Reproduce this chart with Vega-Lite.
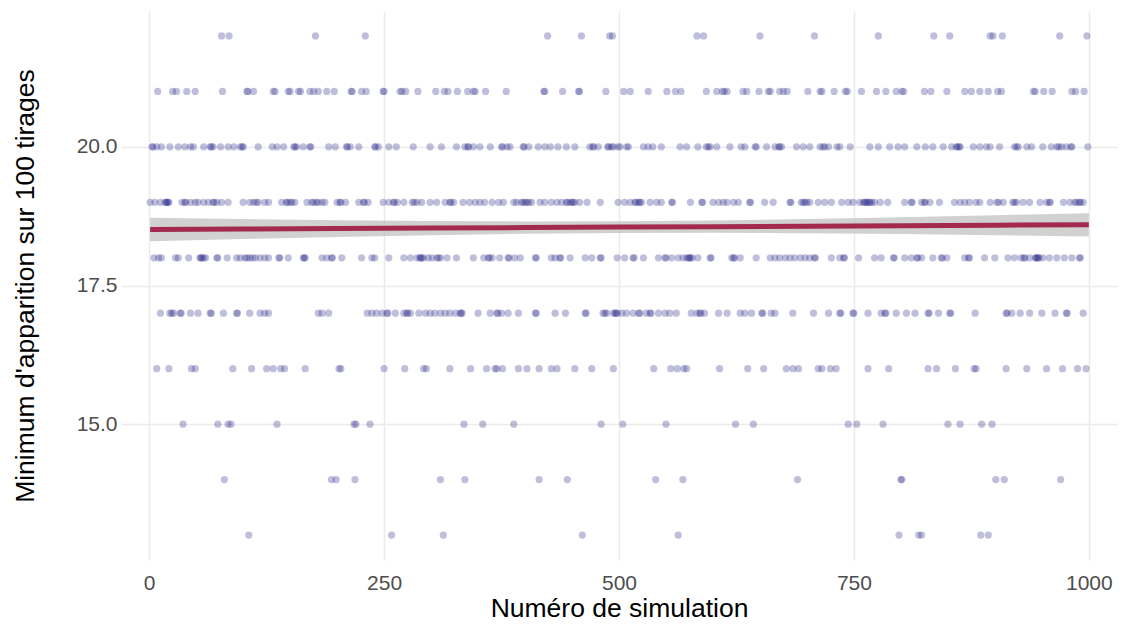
{
"$schema":"https://vega.github.io/schema/vega-lite/v6.json",
"width":996,"height":549,
"autosize":{"type":"none"},
"padding":{"left":121,"top":11,"right":11,"bottom":64},
"background":"white",
"config":{"view":{"stroke":null},"font":"Liberation Sans",
"axis":{"domain":false,"ticks":false,"grid":true,"gridColor":"#EBEBEB","gridWidth":1.5,"labelFont":"Liberation Sans","labelFontSize":21,"labelColor":"#4D4D4D","labelFlush":false,"titleFont":"Liberation Sans","titleFontSize":26.5,"titleFontWeight":"normal","titleColor":"#000000"},
"axisX":{"labelPadding":12,"titlePadding":2},
"axisY":{"labelPadding":4,"titlePadding":37}},
"datasets":{
"fit":[
{"x":1,"fit":18.51,"lo":18.30,"hi":18.72},
{"x":100,"fit":18.519,"lo":18.34,"hi":18.698},
{"x":200,"fit":18.527,"lo":18.376,"hi":18.678},
{"x":300,"fit":18.536,"lo":18.408,"hi":18.664},
{"x":400,"fit":18.544,"lo":18.433,"hi":18.655},
{"x":500,"fit":18.553,"lo":18.448,"hi":18.658},
{"x":600,"fit":18.561,"lo":18.45,"hi":18.672},
{"x":700,"fit":18.57,"lo":18.442,"hi":18.698},
{"x":800,"fit":18.578,"lo":18.427,"hi":18.729},
{"x":900,"fit":18.587,"lo":18.408,"hi":18.766},
{"x":1000,"fit":18.595,"lo":18.385,"hi":18.805}
],
"pts":[
{"x":77,"y":22},{"x":85,"y":22},{"x":177,"y":22},{"x":230,"y":22},{"x":424,"y":22},{"x":460,"y":22},{"x":490,"y":22},{"x":493,"y":22},{"x":583,"y":22},{"x":590,"y":22},{"x":650,"y":22},{"x":708,"y":22},{"x":776,"y":22},{"x":835,"y":22},{"x":852,"y":22},{"x":895,"y":22},{"x":898,"y":22},{"x":908,"y":22},{"x":969,"y":22},{"x":998,"y":22},
{"x":9,"y":21},{"x":25,"y":21},{"x":29,"y":21},{"x":40,"y":21},{"x":49,"y":21},{"x":78,"y":21},{"x":104,"y":21},{"x":105,"y":21},{"x":111,"y":21},{"x":132,"y":21},{"x":134,"y":21},{"x":148,"y":21},{"x":150,"y":21},{"x":159,"y":21},{"x":161,"y":21},{"x":171,"y":21},{"x":175,"y":21},{"x":180,"y":21},{"x":189,"y":21},{"x":197,"y":21},{"x":215,"y":21},{"x":216,"y":21},{"x":226,"y":21},{"x":231,"y":21},{"x":249,"y":21},{"x":250,"y":21},{"x":267,"y":21},{"x":269,"y":21},{"x":273,"y":21},{"x":286,"y":21},{"x":305,"y":21},{"x":314,"y":21},{"x":318,"y":21},{"x":328,"y":21},{"x":339,"y":21},{"x":345,"y":21},{"x":347,"y":21},{"x":358,"y":21},{"x":380,"y":21},{"x":420,"y":21},{"x":421,"y":21},{"x":440,"y":21},{"x":457,"y":21},{"x":458,"y":21},{"x":486,"y":21},
{"x":505,"y":21},{"x":512,"y":21},{"x":531,"y":21},{"x":551,"y":21},{"x":560,"y":21},{"x":566,"y":21},{"x":593,"y":21},{"x":604,"y":21},{"x":610,"y":21},{"x":612,"y":21},{"x":615,"y":21},{"x":632,"y":21},{"x":636,"y":21},{"x":649,"y":21},{"x":659,"y":21},{"x":661,"y":21},{"x":671,"y":21},{"x":675,"y":21},{"x":679,"y":21},{"x":701,"y":21},{"x":714,"y":21},{"x":716,"y":21},{"x":729,"y":21},{"x":741,"y":21},{"x":743,"y":21},{"x":758,"y":21},{"x":774,"y":21},{"x":784,"y":21},{"x":795,"y":21},{"x":801,"y":21},{"x":803,"y":21},{"x":825,"y":21},{"x":832,"y":21},{"x":849,"y":21},{"x":868,"y":21},{"x":875,"y":21},{"x":884,"y":21},{"x":893,"y":21},{"x":903,"y":21},{"x":907,"y":21},{"x":941,"y":21},{"x":943,"y":21},{"x":952,"y":21},{"x":961,"y":21},{"x":982,"y":21},{"x":986,"y":21},{"x":995,"y":21},
{"x":3,"y":20},{"x":8,"y":20},{"x":13,"y":20},{"x":22,"y":20},{"x":31,"y":20},{"x":38,"y":20},{"x":44,"y":20},{"x":47,"y":20},{"x":58,"y":20},{"x":65,"y":20},{"x":68,"y":20},{"x":76,"y":20},{"x":84,"y":20},{"x":90,"y":20},{"x":97,"y":20},{"x":99,"y":20},{"x":116,"y":20},{"x":131,"y":20},{"x":136,"y":20},{"x":143,"y":20},{"x":154,"y":20},{"x":157,"y":20},{"x":164,"y":20},{"x":171,"y":20},{"x":191,"y":20},{"x":198,"y":20},{"x":210,"y":20},{"x":214,"y":20},{"x":223,"y":20},{"x":240,"y":20},{"x":244,"y":20},{"x":255,"y":20},{"x":263,"y":20},{"x":281,"y":20},{"x":299,"y":20},{"x":311,"y":20},{"x":327,"y":20},{"x":336,"y":20},{"x":340,"y":20},{"x":345,"y":20},{"x":352,"y":20},{"x":363,"y":20},{"x":375,"y":20},{"x":381,"y":20},{"x":384,"y":20},{"x":398,"y":20},{"x":404,"y":20},{"x":414,"y":20},{"x":421,"y":20},{"x":427,"y":20},{"x":435,"y":20},{"x":444,"y":20},{"x":453,"y":20},{"x":469,"y":20},{"x":473,"y":20},{"x":478,"y":20},{"x":489,"y":20},{"x":494,"y":20},{"x":499,"y":20},
{"x":4,"y":20},{"x":66,"y":20},{"x":100,"y":20},{"x":155,"y":20},{"x":172,"y":20},{"x":211,"y":20},{"x":241,"y":20},{"x":339,"y":20},{"x":376,"y":20},{"x":399,"y":20},{"x":472,"y":20},{"x":488,"y":20},
{"x":492,"y":20},{"x":501,"y":20},{"x":508,"y":20},{"x":526,"y":20},{"x":531,"y":20},{"x":536,"y":20},{"x":545,"y":20},{"x":565,"y":20},{"x":572,"y":20},{"x":584,"y":20},{"x":593,"y":20},{"x":597,"y":20},{"x":604,"y":20},{"x":618,"y":20},{"x":630,"y":20},{"x":634,"y":20},{"x":645,"y":20},{"x":657,"y":20},{"x":666,"y":20},{"x":670,"y":20},{"x":673,"y":20},{"x":689,"y":20},{"x":696,"y":20},{"x":703,"y":20},{"x":714,"y":20},{"x":719,"y":20},{"x":723,"y":20},{"x":732,"y":20},{"x":735,"y":20},{"x":746,"y":20},{"x":767,"y":20},{"x":776,"y":20},{"x":788,"y":20},{"x":797,"y":20},{"x":804,"y":20},{"x":817,"y":20},{"x":826,"y":20},{"x":834,"y":20},{"x":845,"y":20},{"x":854,"y":20},{"x":859,"y":20},{"x":863,"y":20},{"x":877,"y":20},{"x":884,"y":20},{"x":891,"y":20},{"x":895,"y":20},{"x":905,"y":20},{"x":921,"y":20},{"x":925,"y":20},{"x":934,"y":20},{"x":939,"y":20},{"x":951,"y":20},{"x":960,"y":20},{"x":966,"y":20},{"x":971,"y":20},{"x":976,"y":20},{"x":982,"y":20},{"x":999,"y":20},
{"x":595,"y":20},{"x":646,"y":20},{"x":671,"y":20},{"x":717,"y":20},{"x":860,"y":20},{"x":862,"y":20},{"x":923,"y":20},{"x":968,"y":20},{"x":981,"y":20},{"x":510,"y":20},
{"x":1,"y":19},{"x":6,"y":19},{"x":12,"y":19},{"x":17,"y":19},{"x":19,"y":19},{"x":21,"y":19},{"x":35,"y":19},{"x":38,"y":19},{"x":44,"y":19},{"x":49,"y":19},{"x":52,"y":19},{"x":58,"y":19},{"x":63,"y":19},{"x":68,"y":19},{"x":72,"y":19},{"x":77,"y":19},{"x":84,"y":19},{"x":100,"y":19},{"x":107,"y":19},{"x":111,"y":19},{"x":116,"y":19},{"x":123,"y":19},{"x":127,"y":19},{"x":141,"y":19},{"x":146,"y":19},{"x":152,"y":19},{"x":155,"y":19},{"x":168,"y":19},{"x":173,"y":19},{"x":178,"y":19},{"x":184,"y":19},{"x":187,"y":19},{"x":200,"y":19},{"x":203,"y":19},{"x":209,"y":19},{"x":223,"y":19},{"x":228,"y":19},{"x":233,"y":19},{"x":249,"y":19},{"x":255,"y":19},{"x":260,"y":19},{"x":264,"y":19},{"x":271,"y":19},{"x":280,"y":19},{"x":285,"y":19},{"x":290,"y":19},{"x":299,"y":19},{"x":306,"y":19},{"x":315,"y":19},{"x":320,"y":19},{"x":324,"y":19},{"x":334,"y":19},{"x":341,"y":19},{"x":347,"y":19},{"x":352,"y":19},{"x":357,"y":19},{"x":365,"y":19},{"x":372,"y":19},{"x":377,"y":19},{"x":388,"y":19},{"x":391,"y":19},{"x":396,"y":19},{"x":400,"y":19},{"x":404,"y":19},{"x":407,"y":19},{"x":416,"y":19},{"x":421,"y":19},{"x":428,"y":19},{"x":434,"y":19},{"x":439,"y":19},{"x":444,"y":19},{"x":450,"y":19},{"x":453,"y":19},{"x":458,"y":19},{"x":466,"y":19},{"x":480,"y":19},{"x":499,"y":19},
{"x":18,"y":19},{"x":20,"y":19},{"x":39,"y":19},{"x":69,"y":19},{"x":114,"y":19},{"x":147,"y":19},{"x":150,"y":19},{"x":175,"y":19},{"x":180,"y":19},{"x":204,"y":19},{"x":229,"y":19},{"x":261,"y":19},{"x":282,"y":19},{"x":321,"y":19},{"x":398,"y":19},{"x":402,"y":19},{"x":448,"y":19},{"x":451,"y":19},{"x":445,"y":19},
{"x":506,"y":19},{"x":512,"y":19},{"x":517,"y":19},{"x":521,"y":19},{"x":524,"y":19},{"x":533,"y":19},{"x":540,"y":19},{"x":545,"y":19},{"x":556,"y":19},{"x":576,"y":19},{"x":588,"y":19},{"x":600,"y":19},{"x":606,"y":19},{"x":611,"y":19},{"x":615,"y":19},{"x":622,"y":19},{"x":627,"y":19},{"x":639,"y":19},{"x":655,"y":19},{"x":664,"y":19},{"x":682,"y":19},{"x":694,"y":19},{"x":698,"y":19},{"x":703,"y":19},{"x":712,"y":19},{"x":719,"y":19},{"x":726,"y":19},{"x":737,"y":19},{"x":744,"y":19},{"x":749,"y":19},{"x":756,"y":19},{"x":760,"y":19},{"x":763,"y":19},{"x":767,"y":19},{"x":772,"y":19},{"x":778,"y":19},{"x":786,"y":19},{"x":804,"y":19},{"x":811,"y":19},{"x":822,"y":19},{"x":826,"y":19},{"x":831,"y":19},{"x":841,"y":19},{"x":857,"y":19},{"x":863,"y":19},{"x":868,"y":19},{"x":873,"y":19},{"x":880,"y":19},{"x":884,"y":19},{"x":895,"y":19},{"x":904,"y":19},{"x":909,"y":19},{"x":919,"y":19},{"x":923,"y":19},{"x":930,"y":19},{"x":937,"y":19},{"x":948,"y":19},{"x":955,"y":19},{"x":958,"y":19},{"x":973,"y":19},{"x":980,"y":19},{"x":985,"y":19},{"x":990,"y":19},{"x":994,"y":19},
{"x":518,"y":19},{"x":522,"y":19},{"x":557,"y":19},{"x":589,"y":19},{"x":640,"y":19},{"x":683,"y":19},{"x":696,"y":19},{"x":700,"y":19},{"x":761,"y":19},{"x":764,"y":19},{"x":766,"y":19},{"x":769,"y":19},{"x":812,"y":19},{"x":825,"y":19},{"x":902,"y":19},{"x":921,"y":19},{"x":959,"y":19},{"x":987,"y":19},{"x":991,"y":19},
{"x":5,"y":18},{"x":10,"y":18},{"x":13,"y":18},{"x":28,"y":18},{"x":31,"y":18},{"x":42,"y":18},{"x":54,"y":18},{"x":56,"y":18},{"x":60,"y":18},{"x":72,"y":18},{"x":83,"y":18},{"x":93,"y":18},{"x":97,"y":18},{"x":102,"y":18},{"x":107,"y":18},{"x":113,"y":18},{"x":118,"y":18},{"x":123,"y":18},{"x":127,"y":18},{"x":138,"y":18},{"x":148,"y":18},{"x":164,"y":18},{"x":166,"y":18},{"x":184,"y":18},{"x":189,"y":18},{"x":194,"y":18},{"x":205,"y":18},{"x":226,"y":18},{"x":237,"y":18},{"x":240,"y":18},{"x":255,"y":18},{"x":271,"y":18},{"x":278,"y":18},{"x":285,"y":18},{"x":288,"y":18},{"x":292,"y":18},{"x":297,"y":18},{"x":301,"y":18},{"x":306,"y":18},{"x":310,"y":18},{"x":317,"y":18},{"x":327,"y":18},{"x":345,"y":18},{"x":356,"y":18},{"x":361,"y":18},{"x":365,"y":18},{"x":373,"y":18},{"x":382,"y":18},{"x":389,"y":18},{"x":395,"y":18},{"x":411,"y":18},{"x":428,"y":18},{"x":432,"y":18},{"x":437,"y":18},{"x":448,"y":18},{"x":464,"y":18},{"x":471,"y":18},{"x":480,"y":18},{"x":498,"y":18},
{"x":55,"y":18},{"x":58,"y":18},{"x":73,"y":18},{"x":104,"y":18},{"x":110,"y":18},{"x":139,"y":18},{"x":165,"y":18},{"x":195,"y":18},{"x":289,"y":18},{"x":290,"y":18},{"x":308,"y":18},{"x":362,"y":18},{"x":383,"y":18},{"x":412,"y":18},{"x":438,"y":18},{"x":481,"y":18},
{"x":506,"y":18},{"x":515,"y":18},{"x":526,"y":18},{"x":542,"y":18},{"x":549,"y":18},{"x":556,"y":18},{"x":563,"y":18},{"x":568,"y":18},{"x":574,"y":18},{"x":576,"y":18},{"x":584,"y":18},{"x":597,"y":18},{"x":620,"y":18},{"x":623,"y":18},{"x":629,"y":18},{"x":646,"y":18},{"x":661,"y":18},{"x":666,"y":18},{"x":671,"y":18},{"x":677,"y":18},{"x":682,"y":18},{"x":687,"y":18},{"x":693,"y":18},{"x":698,"y":18},{"x":703,"y":18},{"x":708,"y":18},{"x":726,"y":18},{"x":735,"y":18},{"x":739,"y":18},{"x":755,"y":18},{"x":772,"y":18},{"x":779,"y":18},{"x":792,"y":18},{"x":804,"y":18},{"x":811,"y":18},{"x":817,"y":18},{"x":822,"y":18},{"x":834,"y":18},{"x":843,"y":18},{"x":849,"y":18},{"x":868,"y":18},{"x":872,"y":18},{"x":889,"y":18},{"x":900,"y":18},{"x":914,"y":18},{"x":921,"y":18},{"x":928,"y":18},{"x":932,"y":18},{"x":937,"y":18},{"x":943,"y":18},{"x":946,"y":18},{"x":951,"y":18},{"x":958,"y":18},{"x":966,"y":18},{"x":974,"y":18},{"x":982,"y":18},{"x":990,"y":18},
{"x":516,"y":18},{"x":550,"y":18},{"x":572,"y":18},{"x":575,"y":18},{"x":578,"y":18},{"x":598,"y":18},{"x":622,"y":18},{"x":709,"y":18},{"x":740,"y":18},{"x":793,"y":18},{"x":818,"y":18},{"x":844,"y":18},{"x":873,"y":18},{"x":931,"y":18},{"x":944,"y":18},{"x":945,"y":18},{"x":947,"y":18},{"x":991,"y":18},
{"x":12,"y":17},{"x":22,"y":17},{"x":26,"y":17},{"x":33,"y":17},{"x":44,"y":17},{"x":52,"y":17},{"x":65,"y":17},{"x":79,"y":17},{"x":93,"y":17},{"x":107,"y":17},{"x":118,"y":17},{"x":123,"y":17},{"x":127,"y":17},{"x":180,"y":17},{"x":184,"y":17},{"x":191,"y":17},{"x":232,"y":17},{"x":237,"y":17},{"x":242,"y":17},{"x":248,"y":17},{"x":253,"y":17},{"x":262,"y":17},{"x":271,"y":17},{"x":274,"y":17},{"x":278,"y":17},{"x":287,"y":17},{"x":294,"y":17},{"x":299,"y":17},{"x":304,"y":17},{"x":310,"y":17},{"x":315,"y":17},{"x":320,"y":17},{"x":326,"y":17},{"x":331,"y":17},{"x":333,"y":17},{"x":350,"y":17},{"x":363,"y":17},{"x":370,"y":17},{"x":375,"y":17},{"x":382,"y":17},{"x":393,"y":17},{"x":411,"y":17},{"x":432,"y":17},{"x":443,"y":17},{"x":464,"y":17},{"x":483,"y":17},{"x":487,"y":17},{"x":496,"y":17},
{"x":24,"y":17},{"x":34,"y":17},{"x":66,"y":17},{"x":94,"y":17},{"x":254,"y":17},{"x":275,"y":17},{"x":332,"y":17},{"x":371,"y":17},{"x":412,"y":17},{"x":465,"y":17},{"x":485,"y":17},{"x":494,"y":17},
{"x":497,"y":17},{"x":503,"y":17},{"x":508,"y":17},{"x":515,"y":17},{"x":521,"y":17},{"x":529,"y":17},{"x":533,"y":17},{"x":542,"y":17},{"x":549,"y":17},{"x":554,"y":17},{"x":561,"y":17},{"x":577,"y":17},{"x":583,"y":17},{"x":586,"y":17},{"x":591,"y":17},{"x":606,"y":17},{"x":615,"y":17},{"x":629,"y":17},{"x":634,"y":17},{"x":641,"y":17},{"x":652,"y":17},{"x":662,"y":17},{"x":666,"y":17},{"x":685,"y":17},{"x":707,"y":17},{"x":723,"y":17},{"x":735,"y":17},{"x":749,"y":17},{"x":765,"y":17},{"x":779,"y":17},{"x":783,"y":17},{"x":795,"y":17},{"x":806,"y":17},{"x":815,"y":17},{"x":829,"y":17},{"x":840,"y":17},{"x":852,"y":17},{"x":879,"y":17},{"x":912,"y":17},{"x":918,"y":17},{"x":927,"y":17},{"x":937,"y":17},{"x":950,"y":17},{"x":964,"y":17},{"x":976,"y":17},{"x":994,"y":17},
{"x":498,"y":17},{"x":522,"y":17},{"x":534,"y":17},{"x":587,"y":17},{"x":653,"y":17},{"x":736,"y":17},{"x":750,"y":17},{"x":784,"y":17},{"x":830,"y":17},{"x":853,"y":17},{"x":913,"y":17},{"x":977,"y":17},
{"x":8,"y":16},{"x":21,"y":16},{"x":45,"y":16},{"x":49,"y":16},{"x":89,"y":16},{"x":109,"y":16},{"x":125,"y":16},{"x":132,"y":16},{"x":140,"y":16},{"x":144,"y":16},{"x":166,"y":16},{"x":202,"y":16},{"x":204,"y":16},{"x":250,"y":16},{"x":272,"y":16},{"x":292,"y":16},{"x":295,"y":16},{"x":320,"y":16},{"x":342,"y":16},{"x":359,"y":16},{"x":368,"y":16},{"x":370,"y":16},{"x":376,"y":16},{"x":393,"y":16},{"x":402,"y":16},{"x":415,"y":16},{"x":428,"y":16},{"x":434,"y":16},{"x":453,"y":16},{"x":471,"y":16},{"x":494,"y":16},{"x":537,"y":16},{"x":555,"y":16},{"x":562,"y":16},{"x":569,"y":16},{"x":572,"y":16},{"x":607,"y":16},{"x":637,"y":16},{"x":654,"y":16},{"x":678,"y":16},{"x":685,"y":16},{"x":691,"y":16},{"x":712,"y":16},{"x":716,"y":16},{"x":725,"y":16},{"x":731,"y":16},{"x":765,"y":16},{"x":787,"y":16},{"x":829,"y":16},{"x":838,"y":16},{"x":858,"y":16},{"x":878,"y":16},{"x":880,"y":16},{"x":912,"y":16},{"x":934,"y":16},{"x":955,"y":16},{"x":972,"y":16},{"x":988,"y":16},{"x":997,"y":16},
{"x":36,"y":15},{"x":73,"y":15},{"x":84,"y":15},{"x":87,"y":15},{"x":136,"y":15},{"x":218,"y":15},{"x":220,"y":15},{"x":235,"y":15},{"x":335,"y":15},{"x":355,"y":15},{"x":388,"y":15},{"x":481,"y":15},{"x":504,"y":15},{"x":550,"y":15},{"x":624,"y":15},{"x":643,"y":15},{"x":744,"y":15},{"x":753,"y":15},{"x":781,"y":15},{"x":850,"y":15},{"x":863,"y":15},{"x":886,"y":15},{"x":897,"y":15},
{"x":80,"y":14},{"x":194,"y":14},{"x":199,"y":14},{"x":219,"y":14},{"x":310,"y":14},{"x":336,"y":14},{"x":415,"y":14},{"x":445,"y":14},{"x":539,"y":14},{"x":568,"y":14},{"x":690,"y":14},{"x":800,"y":14},{"x":801,"y":14},{"x":901,"y":14},{"x":910,"y":14},{"x":970,"y":14},
{"x":106,"y":13},{"x":258,"y":13},{"x":313,"y":13},{"x":461,"y":13},{"x":563,"y":13},{"x":798,"y":13},{"x":819,"y":13},{"x":822,"y":13},{"x":885,"y":13},{"x":893,"y":13}
]},
"layer":[
{"data":{"name":"pts"},
"mark":{"type":"circle","size":52,"opacity":0.3,"color":"#2B2B8A"},
"encoding":{
"x":{"field":"x","type":"quantitative","scale":{"domain":[-30,1030],"nice":false,"zero":false},"axis":{"values":[0,250,500,750,1000],"format":"d","title":"Numéro de simulation"}},
"y":{"field":"y","type":"quantitative","scale":{"domain":[12.55,22.45],"nice":false,"zero":false},"axis":{"values":[15,17.5,20],"format":".1f","title":"Minimum d'apparition sur 100 tirages"}}}},
{"data":{"name":"fit"},
"mark":{"type":"area","color":"#BEBEBE","opacity":0.7},
"encoding":{
"x":{"field":"x","type":"quantitative","title":"Numéro de simulation"},
"y":{"field":"lo","type":"quantitative","title":"Minimum d'apparition sur 100 tirages"},
"y2":{"field":"hi"}}},
{"data":{"name":"fit"},
"mark":{"type":"line","color":"#A3294F","strokeWidth":5},
"encoding":{
"x":{"field":"x","type":"quantitative","title":"Numéro de simulation"},
"y":{"field":"fit","type":"quantitative","title":"Minimum d'apparition sur 100 tirages"}}}
]
}
